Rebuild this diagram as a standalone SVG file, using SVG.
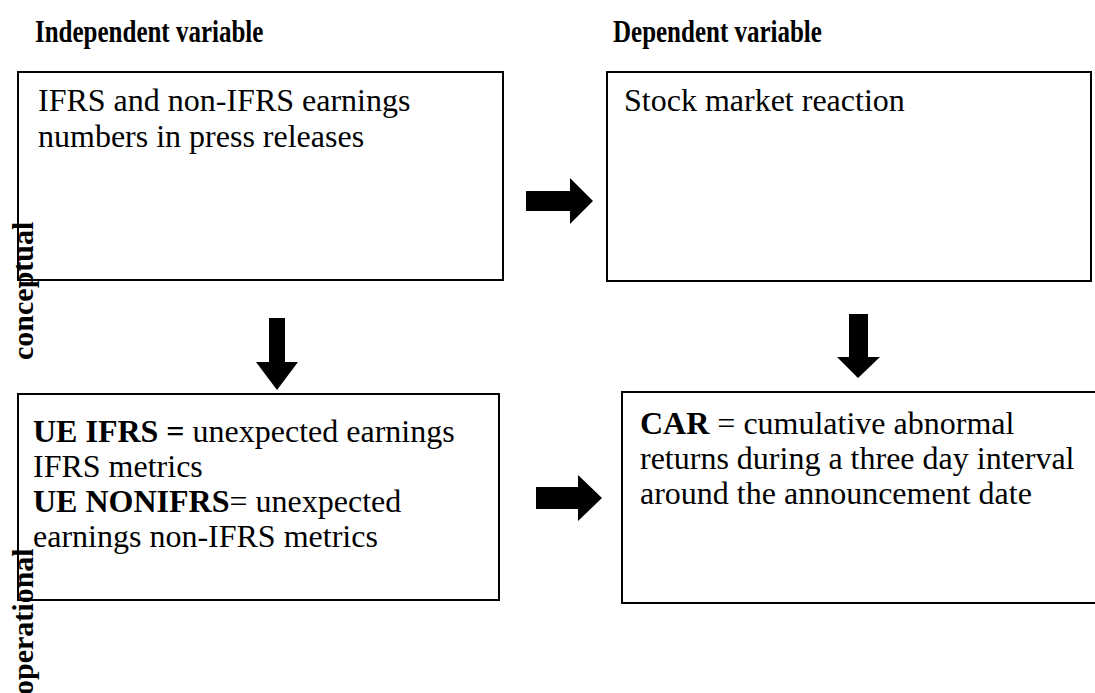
<svg xmlns="http://www.w3.org/2000/svg" width="1095" height="693" viewBox="0 0 1095 693">
<style>
.box{fill:#fff;stroke:#000;stroke-width:2}
.t{font-family:"Liberation Serif","Times New Roman",serif;font-size:32px;fill:#000}
.b{font-weight:bold}
.h{font-family:"Liberation Serif","Times New Roman",serif;font-size:25px;font-weight:bold;fill:#000}
.v{font-family:"Liberation Serif","Times New Roman",serif;font-size:30px;font-weight:bold;fill:#000}
.arr{fill:#000}
</style>
<rect width="1095" height="693" fill="#fff"/>
<g id="titles">
<text class="h" transform="translate(35,42) scale(1,1.25)">Independent variable</text>
<text class="h" transform="translate(613,42) scale(1,1.25)">Dependent variable</text>
</g>
<g id="n1">
<rect class="box" x="18" y="72" width="485" height="208"/>
<text class="t" x="38" y="111">IFRS and non-IFRS earnings</text>
<text class="t" x="38" y="147">numbers in press releases</text>
</g>
<g id="n2">
<rect class="box" x="607" y="72" width="484" height="209"/>
<text class="t" x="624" y="111">Stock market reaction</text>
</g>
<g id="n3">
<rect class="box" x="18" y="394" width="481" height="206"/>
<text class="t" x="33" y="442"><tspan class="b">UE IFRS =</tspan> unexpected earnings</text>
<text class="t" x="33" y="477">IFRS metrics</text>
<text class="t" x="33" y="512"><tspan class="b">UE NONIFRS</tspan>= unexpected</text>
<text class="t" x="33" y="547">earnings non-IFRS metrics</text>
</g>
<g id="n4">
<rect class="box" x="622" y="392" width="480" height="211"/>
<text class="t" x="640" y="434"><tspan class="b">CAR</tspan> = cumulative abnormal</text>
<text class="t" x="640" y="469">returns during a three day interval</text>
<text class="t" x="640" y="504">around the announcement date</text>
</g>
<g id="labels">
<text class="v" transform="translate(33,360) rotate(-90)">conceptual</text>
<text class="v" transform="translate(33,695) rotate(-90)">operational</text>
</g>
<g id="connectors">
<polygon class="arr" points="526,191 570,191 570,178 593,201 570,224 570,211 526,211"/>
<polygon class="arr" points="269,318 285,318 285,362 298,362 277,390 256,362 269,362"/>
<polygon class="arr" points="849,314 868,314 868,357 880,357 858,378 837,357 849,357"/>
<polygon class="arr" points="536,487 578,487 578,475 602,498 578,521 578,509 536,509"/>
</g>
</svg>
